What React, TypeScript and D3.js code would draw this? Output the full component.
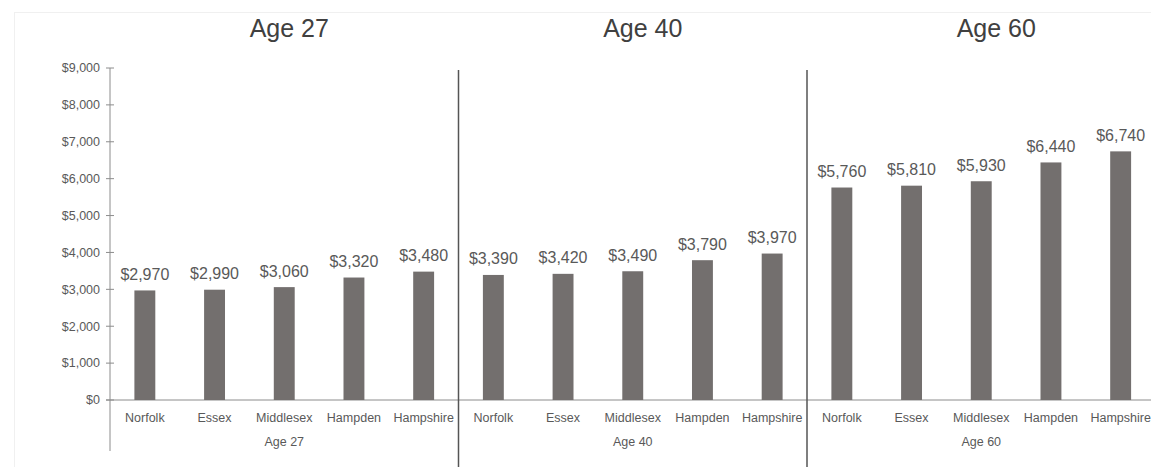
import React from "react";
import * as d3 from "d3";

const counties = ["Norfolk", "Essex", "Middlesex", "Hampden", "Hampshire"];
const ages = ["Age 27", "Age 40", "Age 60"];
const age27 = [2970, 2990, 3060, 3320, 3480];
const age40 = [3390, 3420, 3490, 3790, 3970];
const age60 = [5760, 5810, 5930, 6440, 6740];
const yTicks = [0, 1000, 2000, 3000, 4000, 5000, 6000, 7000, 8000, 9000];

const series = [age27, age40, age60];

const width = 1151,
  height = 467;
const margin = { top: 68, left: 110, bottom: 400 };
const panelWidth = 348.5;

const font = "'Liberation Sans', Arial, sans-serif";
const barColor = "#736f6e";
const textColor = "#595959";

const fmt = (v: number) => "$" + d3.format(",")(v);

export default function App(): JSX.Element {
  const y = d3.scaleLinear().domain([0, 9000]).range([margin.bottom, margin.top]);

  const panel = d3
    .scaleBand()
    .domain(ages)
    .range([margin.left, margin.left + panelWidth * ages.length]);

  // titles sit on a slightly wider grid than the panels
  const titleX = d3.scaleBand().domain(ages).range([112.5, 1173]);

  const x = d3
    .scaleBand()
    .domain(counties)
    .range([0, panelWidth])
    .paddingInner(0.7)
    .paddingOuter(0.35);

  return (
    <svg
      width={width}
      height={height}
      style={{ position: "absolute", left: 0, top: 0, background: "#fff" }}
      fontFamily={font}
    >
      {/* faint frame */}
      <rect x={14.5} y={12.5} width={1150} height={470} fill="none" stroke="#f0f0f0" />

      {ages.map((age) => (
        <text
          key={age}
          x={(titleX(age) as number) + titleX.bandwidth() / 2}
          y={37}
          textAnchor="middle"
          fontSize={25}
          fill="#404040"
        >
          {age}
        </text>
      ))}

      {/* y axis */}
      <line x1={margin.left} x2={margin.left} y1={y(9000)} y2={451} stroke="#8c8c8c" />
      {yTicks.map((t) => (
        <g key={t} transform={`translate(0,${y(t)})`}>
          <line x1={margin.left - 4} x2={margin.left + 4} stroke="#8c8c8c" />
          <text
            x={margin.left - 10}
            dy="0.35em"
            textAnchor="end"
            fontSize={12.5}
            fill={textColor}
          >
            {fmt(t)}
          </text>
        </g>
      ))}

      {/* baseline */}
      <line x1={margin.left - 4} x2={width} y1={y(0)} y2={y(0)} stroke="#8c8c8c" />

      {ages.map((age, i) => {
        const px = panel(age) as number;
        return (
          <g key={age} transform={`translate(${px},0)`}>
            {i > 0 && (
              <line x1={0} x2={0} y1={70} y2={height} stroke="#555" strokeWidth={1.5} />
            )}
            {counties.map((c, j) => {
              const v = series[i][j];
              const bx = x(c) as number;
              return (
                <g key={c}>
                  <rect
                    x={bx}
                    y={y(v)}
                    width={x.bandwidth()}
                    height={y(0) - y(v)}
                    fill={barColor}
                  />
                  <text
                    x={bx + x.bandwidth() / 2}
                    y={y(v) - 10.5}
                    textAnchor="middle"
                    fontSize={16}
                    fill={textColor}
                  >
                    {fmt(v)}
                  </text>
                  <text
                    x={bx + x.bandwidth() / 2}
                    y={422}
                    textAnchor="middle"
                    fontSize={12.5}
                    fill={textColor}
                  >
                    {c}
                  </text>
                </g>
              );
            })}
            <text
              x={panelWidth / 2}
              y={446}
              textAnchor="middle"
              fontSize={12.5}
              fill={textColor}
            >
              {age}
            </text>
          </g>
        );
      })}
    </svg>
  );
}
